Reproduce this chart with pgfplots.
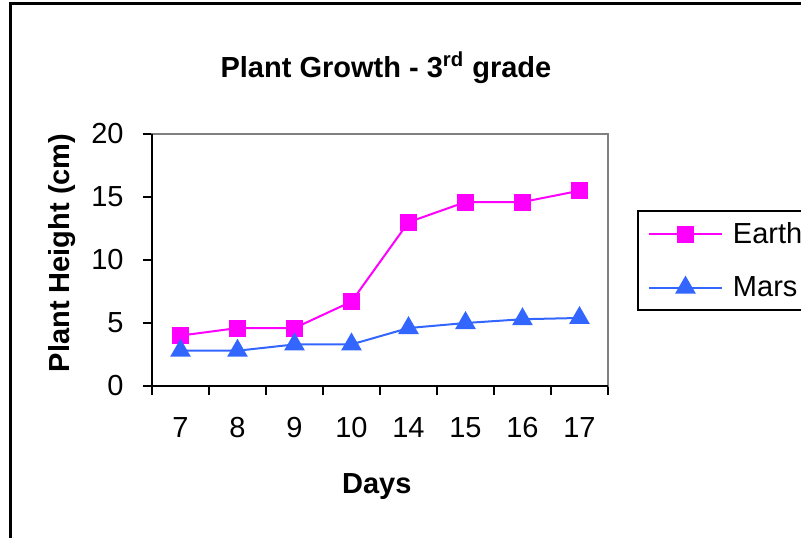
\documentclass[border=0pt]{standalone}
\usepackage{fontspec}
\setmainfont{Liberation Sans}
\usepackage{pgfplots}
\usepackage{pgfplotstable}
\pgfplotsset{compat=1.18}

\definecolor{earth}{HTML}{FF00FF}
\definecolor{mars}{HTML}{3366FF}
\definecolor{frameline}{HTML}{808080}

% x = category index (days 7,8,9,10,14,15,16,17)
\pgfplotstableread{
idx earth mars
0   4.0   2.8
1   4.6   2.8
2   4.6   3.3
3   6.7   3.3
4   13.0  4.6
5   14.6  5.0
6   14.6  5.3
7   15.5  5.4
}\growth

\begin{document}
\begin{tikzpicture}
\useasboundingbox (0,0) rectangle (400.5pt,268.5pt);
\clip (0,0) rectangle (400.5pt,268.5pt);
% outer chart frame (only its left and top sides are in view)
\draw[line width=1.5pt] (5.25pt,-10pt) -- (5.25pt,266.5pt) -- (420pt,266.5pt);
\begin{axis}[
  at={(76pt,75.5pt)}, anchor=south west,
  scale only axis, width=228pt, height=126pt,
  clip=false,
  font=\fontsize{14.5}{17}\selectfont,
  /pgf/number format/assume math mode=true,
  xmin=-0.5, xmax=7.5, ymin=0, ymax=20,
  xtick={-0.5,0.5,...,7.5},
  xticklabels={7,8,9,10,14,15,16,17},
  x tick label as interval,
  ytick={0,5,...,20},
  tick align=outside, xtick pos=bottom, ytick pos=left,
  major tick length=4.5pt,
  tick style={black, line width=0.75pt},
  axis line style={frameline, line width=0.75pt},
  xticklabel style={anchor=north, inner sep=0pt, yshift=-11pt},
  yticklabel style={anchor=east, inner sep=0pt, xshift=-9.5pt},
  title={\bfseries Plant Growth - 3\textsuperscript{rd} grade},
  title style={at={(0.513,1.226)}, anchor=base, yshift=-6pt, font=\fontsize{14.5}{17}\selectfont},
  xlabel={\bfseries Days},
  xlabel style={at={(0.493,-0.4246)}, anchor=base},
  ylabel={\bfseries Plant Height (cm)},
  ylabel style={at={(-0.18,0.528)}, anchor=base, rotate=0},
  legend style={at={(1.0636,0.698)}, anchor=north west, draw=black, line width=1pt,
    inner xsep=5pt, inner ysep=5.5pt, row sep=15pt, column sep=5pt,
    nodes={inner sep=0pt}, cells={anchor=west}},
  legend image code/.code={%
    \draw[mark repeat=2, mark phase=2, #1] plot coordinates {(0pt,0pt) (18.25pt,0pt) (36.5pt,0pt)};},
]
\addplot[earth, line width=1pt, mark=square*, mark size=3.75pt, mark options={solid, fill=earth}]
  table[x=idx, y=earth] {\growth};
\addlegendentry{Earth}
\addplot[mars, line width=1pt, mark=triangle*, mark size=5pt, mark options={solid, fill=mars}]
  table[x=idx, y=mars] {\growth};
\addlegendentry{Mars}
\draw[black, line width=1pt] (rel axis cs:0,1) -- (rel axis cs:0,0) -- (rel axis cs:1,0);
\end{axis}
\end{tikzpicture}
\end{document}
